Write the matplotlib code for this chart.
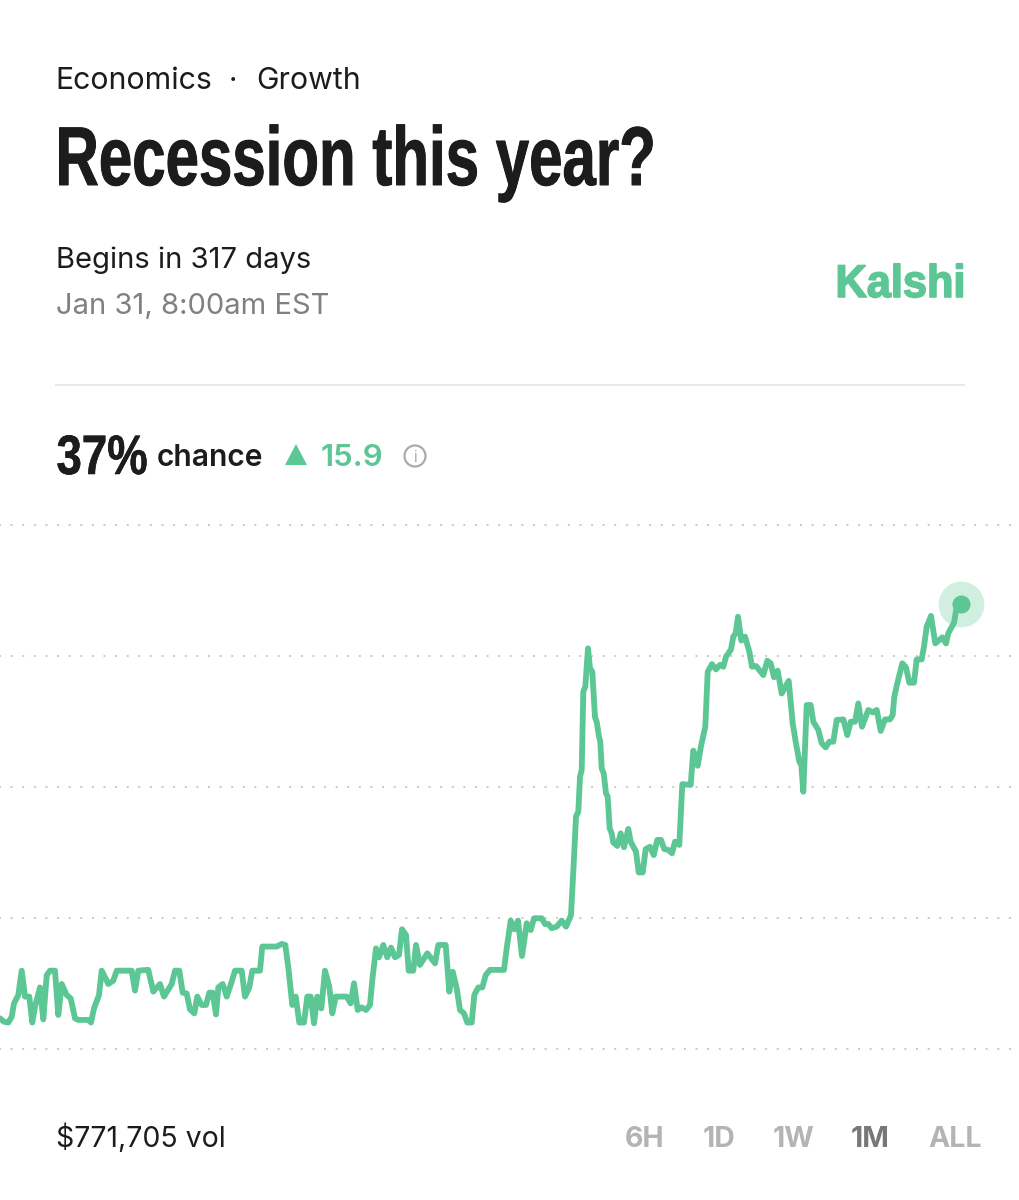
import matplotlib
matplotlib.use("Agg")
import matplotlib.pyplot as plt
from matplotlib.patches import Polygon, Circle
from matplotlib import font_manager as fm
from matplotlib import patheffects as pe

time_steps = [
    0,4,8.3,11.7,14,18.3,21.7,25,29.3,32.3,35,40,43.3,46.7,50,55,58.3,61.7,66.7,70.7,
    75,78.3,88.3,91,94,99,101.7,108.3,113.3,116.7,131.7,135,138.3,148.3,153.3,160,164,171.7,175,179.3,
    182.7,186.7,190,194.3,197.3,201.7,206,209.3,212.7,216,218.3,222.7,226.7,231.7,235,241.7,245,249.3,252.3,260,
    262.3,276.7,281.7,285.3,288.3,292.3,295.7,299.3,
    304,307.3,310.7,314,317.3,321.3,325,329.3,332.3,335.7,346.7,350.7,354,357.7,361.7,366,370,372.3,376,379,
    383.3,387.3,391,395,399,402,406,408.7,413.3,416,420,427.3,435,438.3,445.7,449.3,452.7,456.7,460,464,
    467.3,471.7,474.3,478.3,482.3,485.7,490,504,506.7,510.7,514.3,518,522,526.7,530.7,534,541.7,545,548.3,551.7,
    556.7,561.7,566,571,
    573.3,576,578.3,580,581.7,583.3,585.3,588,590,592.3,595,596.7,599,600.3,601.7,603.7,606,607.7,609.7,611.7,
    613.3,617.3,620.7,624,628.3,630.7,636,638.7,642.7,645.7,650,653.7,657.3,661,664.3,668.3,672,675,679.3,682.3,
    690.7,693.3,697.7,701,705.3,707.7,712,716,720,723.3,726,731,733.3,735.7,738,741.3,745,749.3,752,756,
    763.3,767.3,770.7,774,777.7,781.7,788.7,
    792.7,795.7,799.3,801.3,803.3,806.7,810.7,813.3,818.3,821.7,825.7,829.3,833.3,836.7,843.3,847.3,850.7,855,858.3,862,
    868.3,872.7,876.7,880.7,885,890,892.7,894.3,897.3,902.3,906,909.3,914,916.7,921.7,924,926.7,931,935.3,942.3,
    946,948.3,954,956.7,960.7,
]
chance_pct = [
    21.17,21.04,21.01,21.23,21.74,22.06,22.99,22.00,22.00,21.01,21.62,22.35,21.13,22.82,22.99,22.99,21.30,22.48,22.06,21.93,
    21.17,21.11,21.11,21.01,21.55,22.06,22.99,22.48,22.61,22.99,22.99,22.23,22.99,23.02,22.19,22.48,22.00,22.48,22.99,22.99,
    22.15,22.12,21.51,21.36,22.00,21.68,21.68,22.15,22.15,21.32,22.35,22.48,22.00,22.57,22.99,22.99,22.00,22.35,22.99,22.99,
    23.91,23.91,24.01,23.97,23.12,21.68,22.00,21.01,
    21.01,22.00,22.00,20.98,22.00,21.55,22.99,22.38,21.36,22.00,22.00,21.74,22.51,21.49,21.59,21.49,21.68,22.63,23.84,23.50,
    23.97,23.50,23.87,23.50,23.59,24.57,24.35,22.99,22.99,23.97,23.21,23.65,23.27,23.97,23.97,22.19,22.95,22.32,21.49,21.36,
    21.01,21.01,22.06,22.35,22.35,22.82,23.02,23.02,23.84,24.90,24.57,24.90,23.55,24.80,24.54,24.99,24.99,24.77,24.77,24.61,
    24.67,24.90,24.67,25.11,
    26.77,28.87,29.06,30.39,30.65,33.64,33.83,35.29,34.53,34.40,32.66,32.49,31.92,31.73,30.71,30.52,29.76,29.63,28.42,28.23,
    27.88,27.75,28.23,27.70,28.40,27.91,27.53,26.74,26.74,27.63,27.72,27.40,27.98,27.98,27.63,27.60,27.47,27.91,27.79,30.11,
    30.08,31.39,30.81,31.56,32.30,34.40,34.69,34.49,34.66,34.59,34.97,35.25,35.74,35.87,36.50,35.59,35.74,35.17,34.59,34.62,
    34.27,34.82,34.72,34.19,34.44,33.57,34.05,
    32.43,31.73,30.97,30.84,29.82,33.13,33.13,32.49,32.18,31.67,31.51,31.73,31.73,32.56,32.58,31.98,32.49,32.49,33.19,32.30,
    32.94,32.85,32.94,32.14,32.58,32.58,32.75,33.45,33.96,34.72,34.57,33.98,33.98,34.87,34.87,35.36,36.12,36.53,35.48,35.71,
    35.48,35.87,36.27,36.88,36.98,
]
grid_levels = [20, 25, 30, 35, 40]
range_labels = ["6H", "1D", "1W", "1M", "ALL"]

GREEN = "#5CC795"
INK = "#1c1c1c"
BODY = "Inter"


def narrowed(sx, tag):
    """Liberation Sans Bold with its glyphs narrowed, since no condensed face is installed."""
    base = fm.findfont(fm.FontProperties(family="Liberation Sans", weight="bold"))
    try:
        from fontTools.ttLib import TTFont
        font = TTFont(base)
        glyf = font["glyf"]
        names = list(glyf.keys())
        for n in names:
            g = glyf[n]
            if g.isComposite():
                for c in g.components:
                    c.x = round(c.x * sx)
            elif g.numberOfContours > 0:
                g.coordinates.scale((sx, 1))
                g.coordinates.toInt()
            g.removeHinting()
        for n in names:
            glyf[n].recalcBounds(glyf)
        hmtx = font["hmtx"]
        for n, (adv, lsb) in list(hmtx.metrics.items()):
            hmtx.metrics[n] = (round(adv * sx), round(lsb * sx))
        for t in ("fpgm", "prep", "cvt ", "hdmx", "VDMX", "LTSH", "kern", "GPOS"):
            if t in font:
                del font[t]
        path = f"narrow_{tag}.ttf"
        font.save(path)
        return fm.FontProperties(fname=path)
    except Exception:
        return fm.FontProperties(fname=base)


fig = plt.figure(figsize=(10.2, 12), dpi=100, facecolor="white")

# chart axes: 26.2 px per percentage point, 20% sits at pixel row 1049
ax = fig.add_axes([0, 0, 1, 1])
ax.set_xlim(0, 1020)
ax.set_ylim(20 - (1200 - 1049) / 26.2, 20 + 1049 / 26.2)
ax.set_yticks(grid_levels)
ax.set_xticks([])
ax.tick_params(length=0, labelleft=False)
for s in ax.spines.values():
    s.set_visible(False)
ax.grid(axis="y", color="#c9c9c9", lw=1.4, ls=(0.5, (1, 4.97)))
ax.set_axisbelow(True)
ax.plot(time_steps, chance_pct, color=GREEN, lw=4.2, solid_joinstyle="round", solid_capstyle="round")
ax.plot(time_steps[-1], chance_pct[-1], "o", ms=33, mfc=GREEN, mec="none", alpha=0.28)
ax.plot(time_steps[-1], chance_pct[-1], "o", ms=13, mfc=GREEN, mec="none")

# page furniture in pixel coordinates
ui = fig.add_axes([0, 0, 1, 1], facecolor="none")
ui.set_xlim(0, 1020)
ui.set_ylim(1200, 0)
ui.axis("off")


def label(x, y, s, size, color=INK, weight="normal", ha="left"):
    return ui.text(x, y, s, fontsize=size, color=color, fontweight=weight,
                   family=BODY, ha=ha, va="baseline")


def headline(x, y, s, size, fp, color=INK, extra=0.0):
    f = fp.copy()
    f.set_size(size)
    t = ui.text(x, y, s, color=color, fontproperties=f, ha="left", va="baseline")
    if extra:
        t.set_path_effects([pe.withStroke(linewidth=extra, foreground=color)])
    return t


label(55.3, 89, "Economics", 21.8)
label(229, 89, "·", 21)
label(256.5, 89, "Growth", 21.8)
headline(55.5, 185, "Recession this year?", 60, narrowed(0.72, "title"), extra=0.7)
label(56, 268, "Begins in 317 days", 21)
label(56, 314, "Jan 31, 8:00am EST", 21, color="#808080")
headline(835.5, 297, "Kalshi", 33, narrowed(0.945, "logo"), color=GREEN, extra=1.2)
ui.plot([56, 964], [385, 385], color="#e9e9e9", lw=1.5)
headline(56.5, 474, "37%", 40, narrowed(0.82, "big"), extra=0.4)
label(157, 466, "chance", 21.6, weight="semibold")
ui.add_patch(Polygon([[285, 465], [307, 465], [296, 444]], closed=True, fc=GREEN, ec="none"))
label(321, 466, "15.9", 22.5, color=GREEN, weight="semibold")
ui.add_patch(Circle((415, 456), 10.5, fc="none", ec="#ababab", lw=1.6))
label(415, 462, "i", 11, color="#ababab", ha="center")

label(56, 1147, "$771,705 vol", 20.5)
range_right = [664, 735, 814, 890, 982]
for s, xr in zip(range_labels, range_right):
    label(xr, 1147, s, 20.5, color="#777777" if s == "1M" else "#b4b4b4", weight="bold", ha="right")

fig.savefig("out.png", dpi=100, facecolor="white")
